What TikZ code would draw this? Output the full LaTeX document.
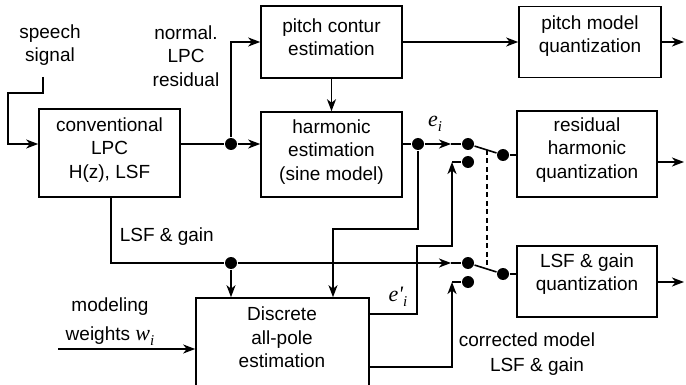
\documentclass[tikz,border=0pt]{standalone}
\usepackage{fontspec}
\setmainfont{Liberation Sans}
\newfontfamily\tms{Liberation Serif}
\usetikzlibrary{arrows.meta,calc}
\newcommand{\mysub}[1]{\raisebox{-5pt}{\fontsize{15}{15}\selectfont #1}}
\begin{document}
\begin{tikzpicture}[x=1pt,y=-1pt,
  line width=1.6pt,
  box/.style={draw,line width=1.6pt,inner sep=0pt},
  txt/.style={align=center,inner sep=0pt,font=\fontsize{19}{23.5}\selectfont},
  mth/.style={inner sep=0pt,font=\fontsize{22}{24}\selectfont\tms\itshape},
  arr/.style={-{Stealth[length=12pt,width=9pt,inset=3.5pt]}},
  dot/.style={circle,fill,inner sep=0pt,minimum size=12pt}]
\useasboundingbox (0,0) rectangle (686,385);

% boxes
\node[box,minimum width=141pt,minimum height=88pt] (lpc) at (109.5,153) {};
\node[box,minimum width=141pt,minimum height=72pt] (pitch) at (331.5,42) {};
\node[box,minimum width=141pt,minimum height=85pt] (harm) at (331.5,154.5) {};
\node[box,minimum width=142pt,minimum height=71pt] (pq) at (590,42) {};
\node[box,minimum width=140pt,minimum height=86pt] (rq) at (587,154) {};
\node[box,minimum width=140pt,minimum height=71pt] (lq) at (587,281.5) {};
\node[box,minimum width=173pt,minimum height=94pt] (dap) at (282.5,345) {};

% box texts
\node[txt] (lpct) at (109.5,150) {conventional\\LPC\\H(z), LSF};
\node[txt] (pitcht) at (331.5,37) {pitch contur\\estimation};
\node[txt] (harmt) at (331.5,152) {harmonic\\estimation\\(sine model)};
\node[txt] (pqt) at (590,36) {pitch model\\quantization};
\node[txt] (rqt) at (587,150) {residual\\harmonic\\quantization};
\node[txt] (lqt) at (587,274) {LSF \& gain\\quantization};
\node[txt] (dapt) at (282,337.5) {Discrete\\all-pole\\estimation};

% free labels
\node[txt] (speech) at (50,45) {speech\\signal};
\node[txt] (resid) at (186,56) {normal.\\LPC\\residual};
\node[txt,anchor=west] (lsfl) at (119,237) {LSF \& gain};
\node[txt] (mw1) at (110,307) {modeling};
\node[txt] (mw2) at (110,336) {weights {\fontsize{22}{24}\selectfont\tms\itshape w\mysub{i}}};
\node[txt,anchor=west] (corr1) at (458,340) {corrected model};
\node[txt] (corr2) at (537,367) {LSF \& gain};
\node[mth] (ei) at (435,124) {e\mysub{i}};
\node[mth] (epi) at (398,297) {e\char"27\mysub{i}};

% dots
\node[dot] (j1) at (231,144) {};
\node[dot] (j2) at (418,144) {};
\node[dot] (j3) at (231,263) {};
\node[dot] (s1a) at (468,144) {};
\node[dot] (s1b) at (468,162) {};
\node[dot] (s1c) at (503,155) {};
\node[dot] (s2a) at (468,263) {};
\node[dot] (s2b) at (468,282) {};
\node[dot] (s2c) at (503,274) {};

% coordinates
\coordinate (sp) at (43,77);
\coordinate (pqo) at (684,42);
\coordinate (rqo) at (684,162);
\coordinate (lqo) at (684,282);
\coordinate (t1) at (451,144);
\coordinate (t2) at (451,263);
\coordinate (k1) at (333,229);
\coordinate (p1) at (417,314);
\coordinate (p2) at (452,246);
\coordinate (c1) at (452,162);
\coordinate (q1) at (452,367);
\coordinate (c2) at (452,282);
\coordinate (l1) at (111,263);
\coordinate (w0) at (58,349);

% connectors
\draw[arr] (sp) -- (43,93) -- (8,93) |- (lpc.west |- j1);
\draw (lpc.east |- j1) -- (j1);
\draw[arr] (j1) -- (j1 -| harm.west);
\draw[arr] (j1) |- (pitch.west);
\draw[arr] (pitch.south) -- (harm.north);
\draw[arr] (pitch.east) -- (pq.west);
\draw[arr] (pq.east) -- (pqo);
\draw (harm.east |- j2) -- (j2);
\draw[arr] (j2) -- (t1);
\draw (t1) -- (s1a);
\draw (s1a) -- (s1c);
\draw (s1c) -- (s1c -| rq.west);
\draw[arr] (rq.east |- rqo) -- (rqo);
\draw[arr] (j2) |- (k1) -- (k1 |- dap.north);
\draw[arr] (dap.east |- p1) -- (p1) |- (p2) -- (c1);
\draw (c1) -- (s1b);
\draw (lpc.south -| l1) -- (l1) -- (j3);
\draw[arr] (j3) -- (t2);
\draw (t2) -- (s2a);
\draw[arr] (j3) -- (j3 |- dap.north);
\draw (s2a) -- (s2c);
\draw (s2c) -- (s2c -| lq.west);
\draw[arr] (lq.east |- lqo) -- (lqo);
\draw[arr] (dap.east |- q1) -- (q1) -- (c2);
\draw (c2) -- (s2b);
\draw[arr] (w0) -- (w0 -| dap.west);
\draw[dash pattern=on 5pt off 3.5pt, line width=1.3pt] ($(s1a)!0.54!(s1c)$) -- ($(s2a)!0.54!(s2c)$);
\end{tikzpicture}
\end{document}
